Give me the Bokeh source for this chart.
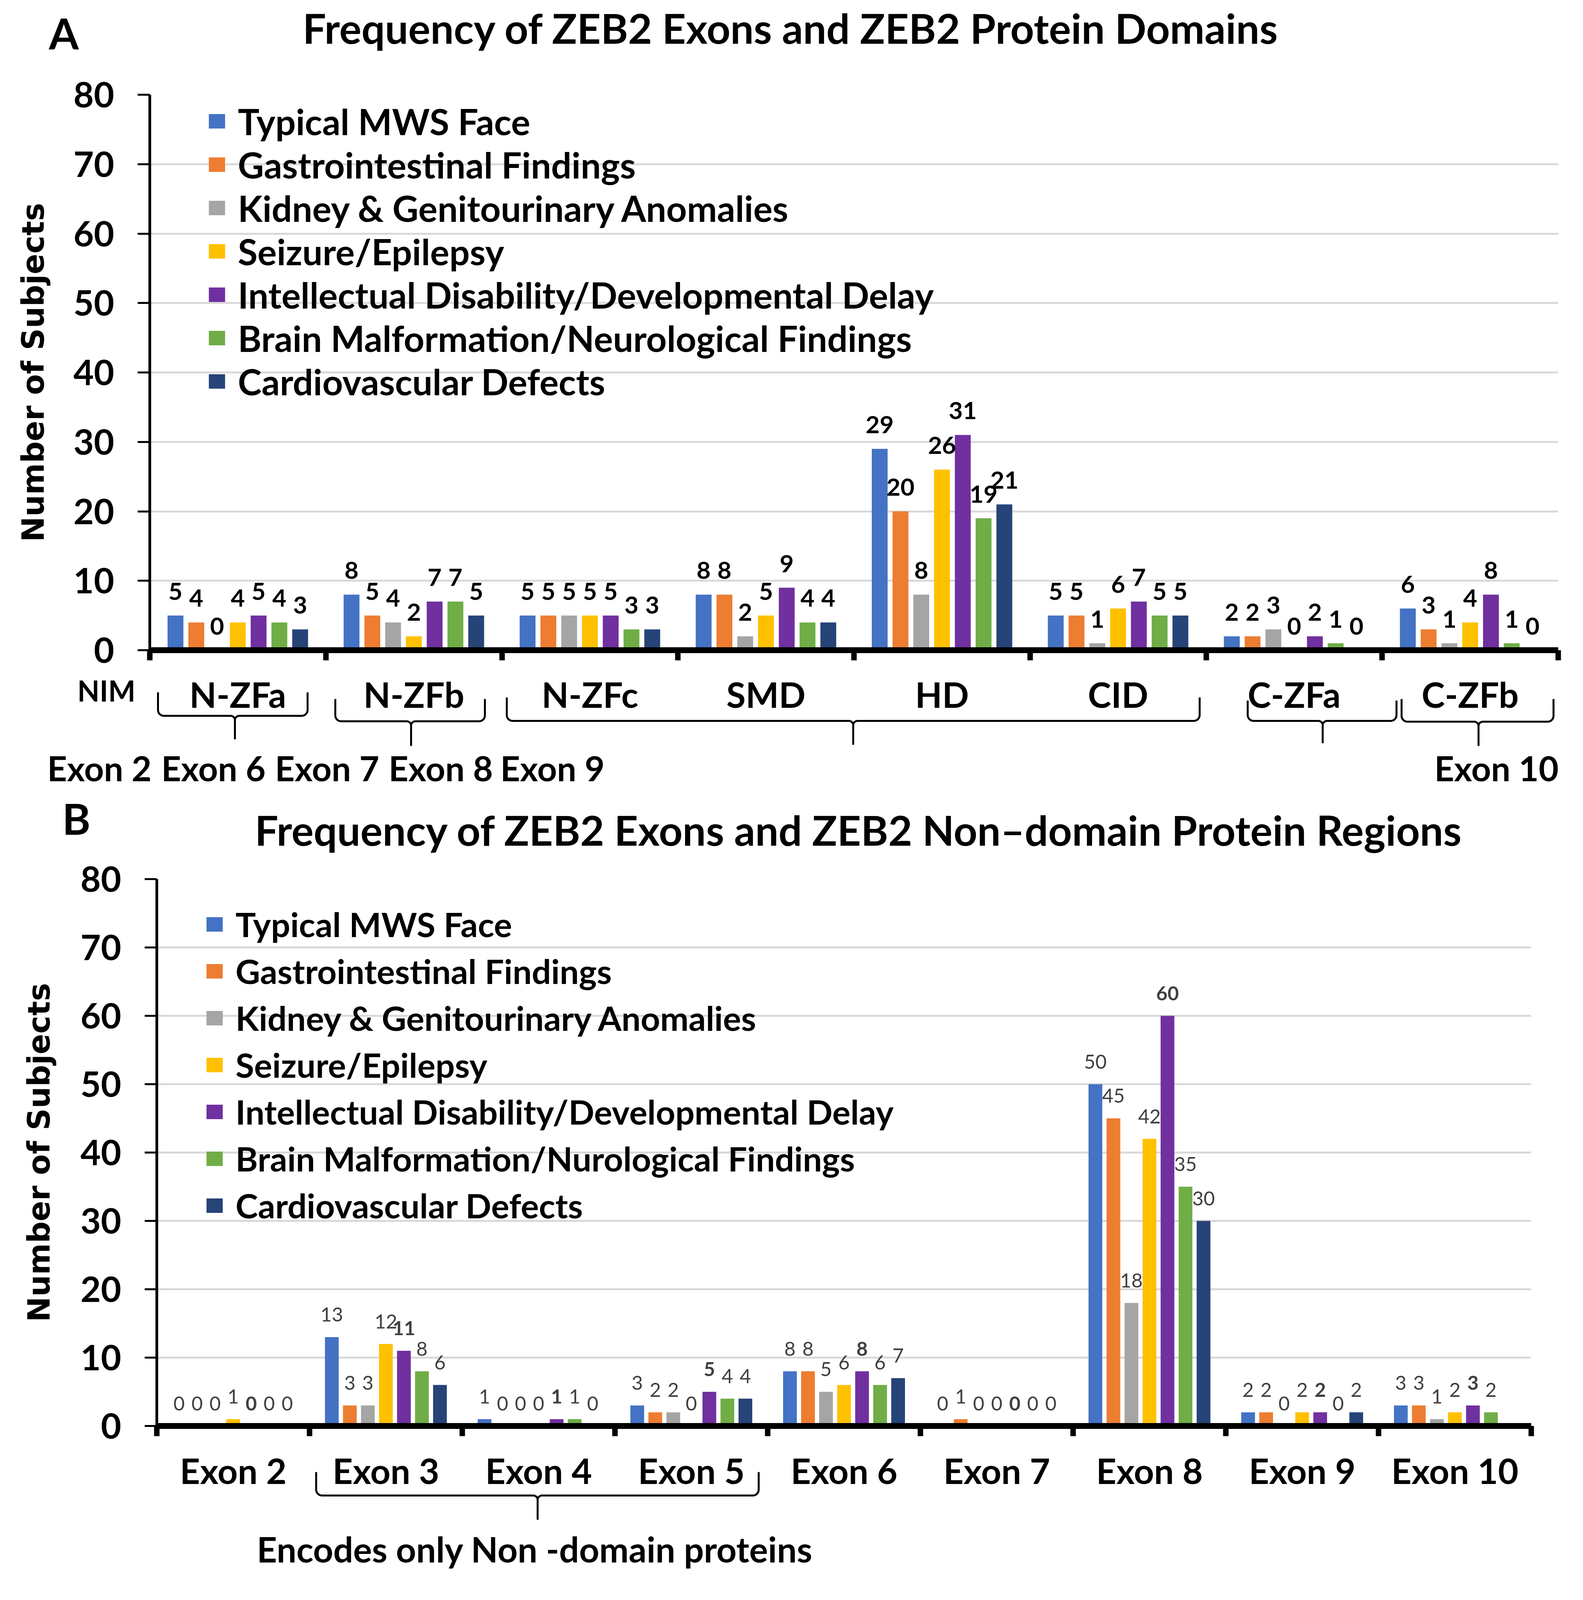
import math
from bokeh.plotting import figure
from bokeh.models import Range1d, FixedTicker, Legend, LegendItem, LabelSet, ColumnDataSource
from bokeh.layouts import column, row
from bokeh.embed import file_html
from bokeh.resources import INLINE
from bokeh.core.properties import value, field

# ---------------- data ----------------
series_a = ["Typical MWS Face", "Gastrointestinal Findings", "Kidney & Genitourinary Anomalies",
            "Seizure/Epilepsy", "Intellectual Disability/Developmental Delay",
            "Brain Malformation/Neurological Findings", "Cardiovascular Defects"]
series_b = ["Typical MWS Face", "Gastrointestinal Findings", "Kidney & Genitourinary Anomalies",
            "Seizure/Epilepsy", "Intellectual Disability/Developmental Delay",
            "Brain Malformation/Nurological Findings", "Cardiovascular Defects"]
colors = ["#4472C4", "#ED7D31", "#A5A5A5", "#FFC000", "#7030A0", "#70AD47", "#264478"]

domains = ["N-ZFa", "N-ZFb", "N-ZFc", "SMD", "HD", "CID", "C-ZFa", "C-ZFb"]
face_a = [5, 8, 5, 8, 29, 5, 2, 6]
gi_a = [4, 5, 5, 8, 20, 5, 2, 3]
kidney_a = [0, 4, 5, 2, 8, 1, 3, 1]
seizure_a = [4, 2, 5, 5, 26, 6, 0, 4]
id_a = [5, 7, 5, 9, 31, 7, 2, 8]
brain_a = [4, 7, 3, 4, 19, 5, 1, 1]
cardio_a = [3, 5, 3, 4, 21, 5, 0, 0]

exons = ["Exon 2", "Exon 3", "Exon 4", "Exon 5", "Exon 6", "Exon 7", "Exon 8", "Exon 9", "Exon 10"]
face_b = [0, 13, 1, 3, 8, 0, 50, 2, 3]
gi_b = [0, 3, 0, 2, 8, 1, 45, 2, 3]
kidney_b = [0, 3, 0, 2, 5, 0, 18, 0, 1]
seizure_b = [1, 12, 0, 0, 6, 0, 42, 2, 2]
id_b = [0, 11, 1, 5, 8, 0, 60, 2, 3]
brain_b = [0, 8, 1, 4, 6, 0, 35, 0, 2]
cardio_b = [0, 6, 0, 4, 7, 0, 30, 2, None]

y_ticks = [0, 10, 20, 30, 40, 50, 60, 70, 80]

FONT = "Lato"
PITCH = 0.118
BAR_W = 0.09
W = 4037               # figure width (page minus margins)
S = 4045.0 / 4880.0    # vertical fit factor


def Y(y):
    return int(round(y * S))


def no_align(p):
    try:
        p.frame_align = False
    except Exception:
        pass


def strip(top, bottom):
    h = bottom - top
    p = figure(width=W, height=h, x_range=Range1d(0, W), y_range=Range1d(h, 0),
               x_axis_type=None, y_axis_type=None, output_backend="svg",
               toolbar_location=None, min_border=0)
    p.outline_line_color = None
    p.xgrid.visible = False
    p.ygrid.visible = False
    p.background_fill_color = "white"
    p.border_fill_color = "white"
    no_align(p)
    p._top = top
    return p


def txt(p, texts, xs, ys, size, style="bold", align="center", color="black"):
    p.text(x=[x - 8 for x in xs], y=[y - p._top for y in ys], text=texts,
           text_font=value(FONT), text_font_style=style, text_font_size=value(size),
           text_align=align, text_baseline="middle", text_color=color)


def brace(p, xl, xr, xm, yt, yb, ytip, r=15, r2=11, k=8):
    pts = [(xl, yt), (xl, yb - r)]
    cx, cy = xl + r, yb - r
    for s in range(1, k + 1):
        a = math.pi - (math.pi / 2) * s / k
        pts.append((cx + r * math.cos(a), cy + r * math.sin(a)))
    pts.append((xm - r2, yb))
    cx, cy = xm - r2, yb + r2
    for s in range(1, k + 1):
        a = -math.pi / 2 + (math.pi / 2) * s / k
        pts.append((cx + r2 * math.cos(a), cy + r2 * math.sin(a)))
    pts.append((xm, ytip))
    pts.append((xm, yb + r2))
    cx, cy = xm + r2, yb + r2
    for s in range(1, k + 1):
        a = math.pi + (math.pi / 2) * s / k
        pts.append((cx + r2 * math.cos(a), cy + r2 * math.sin(a)))
    pts.append((xr - r, yb))
    cx, cy = xr - r, yb - r
    for s in range(1, k + 1):
        a = math.pi / 2 - (math.pi / 2) * s / k
        pts.append((cx + r * math.cos(a), cy + r * math.sin(a)))
    pts.append((xr, yt))
    p.line(x=[q[0] - 8 for q in pts], y=[q[1] - p._top for q in pts],
           line_color="black", line_width=5, line_join="round")


def chart(cats, values, names, g, lab):
    n = len(cats)
    L, R, T, B = g["L"], g["R"], g["T"], g["B"]
    p = figure(x_range=Range1d(-0.5, n - 0.5), y_range=Range1d(0, 80),
               frame_width=R - L, frame_height=B - T,
               min_border_left=L - 8, min_border_right=8 + W - R,
               min_border_top=T - g["top"], min_border_bottom=g["bottom"] - B,
               output_backend="svg", toolbar_location=None)
    p.outline_line_color = None
    p.background_fill_color = "white"
    p.border_fill_color = "white"
    no_align(p)

    xa = p.xaxis[0]
    xa.ticker = FixedTicker(ticks=list(range(n)), minor_ticks=[i - 0.5 for i in range(n + 1)])
    xa.major_label_overrides = {i: " " for i in range(n)}
    xa.major_label_text_font_size = "1px"
    xa.major_label_standoff = 0
    xa.axis_line_width = 15
    xa.axis_line_color = "black"
    xa.major_tick_line_color = None
    xa.major_tick_out = 0
    xa.major_tick_in = 0
    xa.minor_tick_out = 26
    xa.minor_tick_in = 0
    xa.minor_tick_line_width = 14
    xa.minor_tick_line_color = "black"

    ya = p.yaxis[0]
    ya.ticker = FixedTicker(ticks=y_ticks)
    ya.axis_line_width = 7
    ya.axis_line_color = "black"
    ya.major_tick_out = 31
    ya.major_tick_in = 0
    ya.major_tick_line_width = 5
    ya.minor_tick_line_color = None
    ya.major_label_standoff = 60
    ya.major_label_text_font = FONT
    ya.major_label_text_font_style = "bold"
    ya.major_label_text_font_size = "90px"
    ya.major_label_text_color = "black"
    ya.axis_label = "Number of Subjects"
    ya.axis_label_text_font = "DejaVu Sans"
    ya.axis_label_text_font_style = "bold"
    ya.axis_label_text_font_size = "78px"
    ya.axis_label_text_color = "black"
    ya.axis_label_standoff = g["ylabstandoff"]

    p.xgrid.grid_line_color = None
    p.ygrid.grid_line_color = "#D9D9D9"
    p.ygrid.grid_line_width = 5
    p.ygrid.ticker = FixedTicker(ticks=y_ticks)

    items = []
    lx, ly, lt, ls = [], [], [], []
    for j, vals in enumerate(values):
        xs, tops = [], []
        for i, v in enumerate(vals):
            if v is None:
                continue
            xs.append(i + (j - 3) * PITCH)
            tops.append(v)
            lx.append(i + (j - 3) * PITCH)
            ly.append(v)
            lt.append(str(v))
            ls.append("bold" if (lab["purple_bold"] and j == 4) or lab["bold"] else "normal")
        src = ColumnDataSource(dict(x=xs, top=tops))
        r = p.vbar(x="x", top="top", bottom=0, width=BAR_W, source=src,
                   fill_color=colors[j], line_color=None)
        items.append(LegendItem(label=names[j], renderers=[r]))

    lsrc = ColumnDataSource(dict(x=lx, y=ly, text=lt, style=ls))
    p.add_layout(LabelSet(x="x", y="y", text="text", source=lsrc, y_offset=lab["offset"],
                          text_align="center", text_baseline="middle",
                          text_font=value(FONT), text_font_size=value(lab["size"]),
                          text_font_style=field("style"), text_color=lab["color"]))

    rowh = g["legrow"]
    leg_top = g["leg_first"] - rowh / 2.0
    leg_bottom = leg_top + 7 * rowh
    leg = Legend(items=items, location=(g["leg_x"] - L, B - leg_bottom),
                 glyph_width=52, glyph_height=46, label_standoff=28, spacing=0,
                 padding=0, margin=0, label_height=int(rowh), border_line_color=None,
                 background_fill_alpha=0, label_text_font=FONT, label_text_font_style="bold",
                 label_text_font_size=g["legsize"], label_text_color="black")
    p.add_layout(leg)
    return p


# ---------------- panel A ----------------
LA, RA = 391, 3997
tA = strip(8, 166)
txt(tA, ["A"], [171], [Y(109)], "110px")
txt(tA, ["Frequency of ZEB2 Exons and ZEB2 Protein Domains"], [2033], [78], "106px")

gA = dict(L=LA, R=RA, T=Y(302), B=Y(2017), top=166, bottom=Y(2017) + 55, ylabstandoff=55,
          legrow=131 * S, leg_first=Y(374) + 24, leg_x=537, legsize="92px")
cA = chart(domains, [face_a, gi_a, kidney_a, seizure_a, id_a, brain_a, cardio_a], series_a, gA,
           dict(offset=int(75 * S), size="62px", color="black", bold=True, purple_bold=False))

bA = strip(gA["bottom"], 2030)
gwA = (RA - LA) / len(domains)
txt(bA, domains, [LA + gwA * (i + 0.5) for i in range(len(domains))],
    [gA["bottom"] + 57] * len(domains), "90px")
txt(bA, ["NIM"], [280], [gA["bottom"] + 48], "74px")
txt(bA, ["Exon 2", "Exon 6", "Exon 7", "Exon 8", "Exon 9", "Exon 10"],
    [262, 554, 845, 1136, 1422, 3839], [Y(2380)] * 6, "88px")
brace(bA, 412, 795, 609, Y(2147), Y(2220), Y(2290))
brace(bA, 866, 1249, 1060, Y(2168), Y(2237), Y(2310))
brace(bA, 1305, 3079, 2192, Y(2163), Y(2235), Y(2307))
brace(bA, 3202, 3583, 3394, Y(2173), Y(2235), Y(2302))
brace(bA, 3596, 3985, 3793, Y(2168), Y(2238), Y(2310))

# ---------------- panel B ----------------
LB, RB = 409, 3928
tB = strip(2030, 2198)
txt(tB, ["B"], [203], [Y(2535)], "110px")
txt(tB, ["Frequency of ZEB2 Exons and ZEB2 Non\u2013domain Protein Regions"], [2207], [2131], "106px")

gB = dict(L=LB, R=RB, T=Y(2719) + 4, B=Y(4413), top=2198, bottom=Y(4413) + 55, ylabstandoff=58,
          legrow=145.5 * S, leg_first=Y(2828) + 26, leg_x=531, legsize="87px")
cB = chart(exons, [face_b, gi_b, kidney_b, seizure_b, id_b, brain_b, cardio_b], series_b, gB,
           dict(offset=int(70 * S), size="50px", color="#404040", bold=False, purple_bold=True))

bB = strip(gB["bottom"], 4045)
gwB = (RB - LB) / len(exons)
txt(bB, exons, [LB + gwB * (i + 0.5) for i in range(len(exons))],
    [gB["bottom"] + 58] * len(exons), "90px")
brace(bB, 817, 1950, 1384, Y(4556), Y(4628), Y(4700))
txt(bB, ["Encodes only Non -domain  proteins"], [1388], [Y(4792)], "90px")

layout = column(*[row(f, spacing=0) for f in (tA, cA, bA, tB, cB, bB)], spacing=0)
open("out.html", "w").write(file_html(layout, INLINE))
